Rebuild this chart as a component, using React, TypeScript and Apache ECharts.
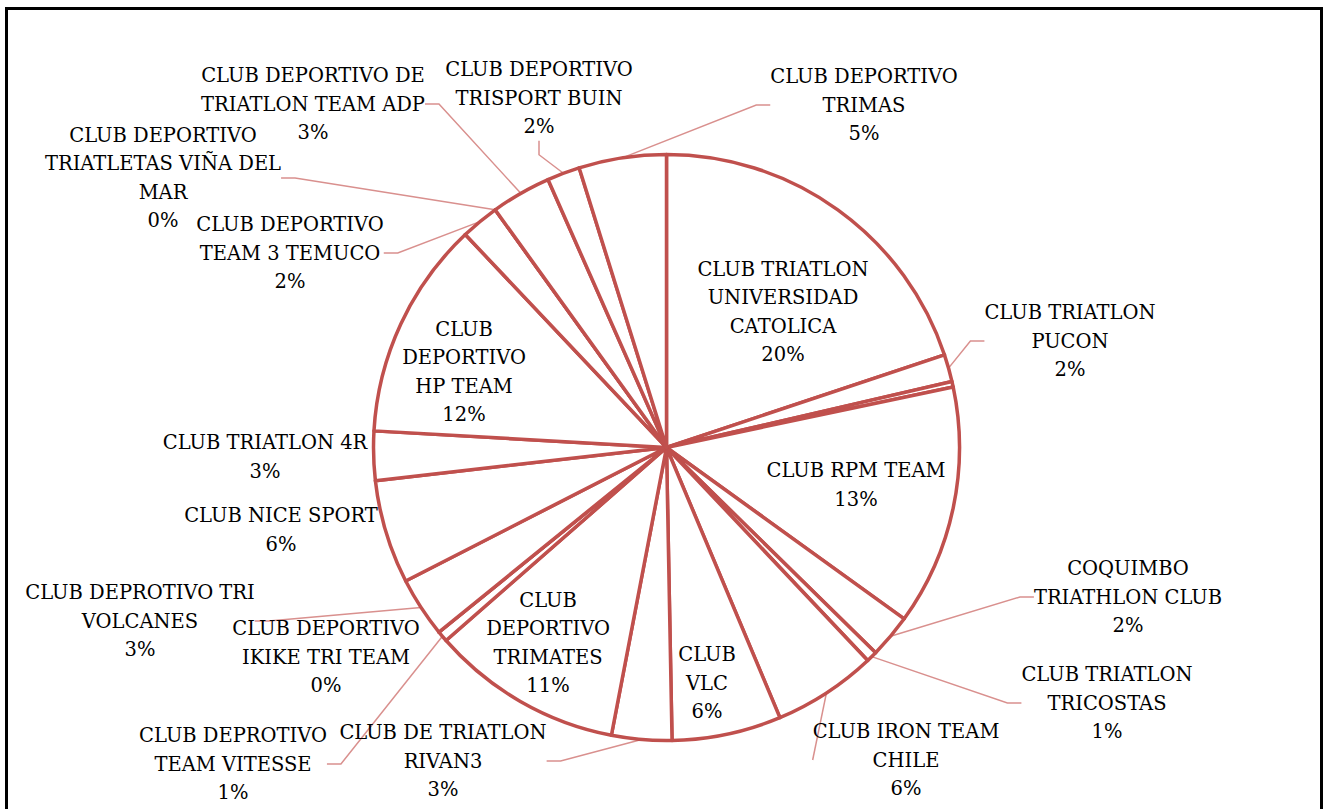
import React, { useEffect, useRef } from "react";
import * as echarts from "echarts";

// Clubs in clockwise order starting at 12 o'clock
const clubs = [
  "CLUB TRIATLON UNIVERSIDAD CATOLICA",
  "CLUB TRIATLON PUCON",
  "",
  "CLUB RPM TEAM",
  "COQUIMBO TRIATHLON CLUB",
  "CLUB TRIATLON TRICOSTAS",
  "CLUB IRON TEAM CHILE",
  "CLUB VLC",
  "CLUB DE TRIATLON RIVAN3",
  "CLUB DEPORTIVO TRIMATES",
  "CLUB DEPROTIVO TEAM VITESSE",
  "CLUB DEPORTIVO IKIKE TRI TEAM",
  "CLUB DEPROTIVO TRI VOLCANES",
  "CLUB NICE SPORT",
  "CLUB TRIATLON 4R",
  "CLUB DEPORTIVO HP TEAM",
  "CLUB DEPORTIVO TEAM 3 TEMUCO",
  "CLUB DEPORTIVO TRIATLETAS VIÑA DEL MAR",
  "CLUB DEPORTIVO DE TRIATLON TEAM ADP",
  "CLUB DEPORTIVO TRISPORT BUIN",
  "CLUB DEPORTIVO TRIMAS",
];

// Athletes per club
const counts = [66, 5, 1, 44, 8, 2, 19, 20, 11, 35, 2, 0, 11, 19, 9, 40, 7, 0, 11, 6, 16];

// Label text as wrapped in the original chart
const labelNames = [
  "CLUB TRIATLON\nUNIVERSIDAD\nCATOLICA",
  "CLUB TRIATLON\nPUCON",
  "",
  "CLUB RPM TEAM",
  "COQUIMBO\nTRIATHLON CLUB",
  "CLUB TRIATLON\nTRICOSTAS",
  "CLUB IRON TEAM\nCHILE",
  "CLUB\nVLC",
  "CLUB DE TRIATLON\nRIVAN3",
  "CLUB\nDEPORTIVO\nTRIMATES",
  "CLUB DEPROTIVO\nTEAM VITESSE",
  "CLUB DEPORTIVO\nIKIKE TRI TEAM",
  "CLUB DEPROTIVO TRI\nVOLCANES",
  "CLUB NICE SPORT",
  "CLUB TRIATLON 4R",
  "CLUB\nDEPORTIVO\nHP TEAM",
  "CLUB DEPORTIVO\nTEAM 3 TEMUCO",
  "CLUB DEPORTIVO\nTRIATLETAS VIÑA DEL\nMAR",
  "CLUB DEPORTIVO DE\nTRIATLON TEAM ADP",
  "CLUB DEPORTIVO\nTRISPORT BUIN",
  "CLUB DEPORTIVO\nTRIMAS",
];

// label placement kind: "in" inside slice, "out" outside with leader, "free" outside without leader, "none" hidden
const labelKind = [
  "in", "out", "none", "in", "out", "out", "out", "in", "out", "in",
  "out", "free", "out", "free", "free", "in", "out", "out", "out", "out", "out",
];

// label block centres (layout, not data)
const labelCenters: number[][] = [
  [783, 312], [1070, 341], [0, 0], [856, 485], [1128, 597], [1107, 703],
  [906, 760], [707, 683], [443, 761], [548, 643], [233, 764], [326, 657],
  [140, 621], [281, 530], [265, 457], [464, 372], [290, 253], [163, 178],
  [313, 104], [539, 98], [864, 105],
];

export default function App() {
  const ref = useRef<HTMLDivElement>(null);
  useEffect(() => {
    if (!ref.current) return;
    const chart = echarts.init(ref.current, null, { renderer: "svg" });
    const total = counts.reduce((a, b) => a + b, 0);
    const data = clubs.map((name, i) => {
      const kind = labelKind[i];
      return {
        name,
        value: counts[i],
        label: {
          show: kind !== "none",
          position: kind === "in" ? "inside" : "outside",
        },
        labelLine: { show: kind === "out" },
      };
    });
    chart.setOption({
      animation: false,
      backgroundColor: "#ffffff",
      graphic: [
        {
          type: "rect",
          shape: { x: 6.5, y: 8.5, width: 1315, height: 820 },
          style: { fill: "none", stroke: "#000000", lineWidth: 3 },
          silent: true,
        },
      ],
      series: [
        {
          type: "pie",
          center: [666.5, 447.5],
          radius: 293,
          startAngle: 90,
          clockwise: true,
          avoidLabelOverlap: false,
          percentPrecision: 0,
          emphasis: { disabled: true },
          itemStyle: {
            color: "#ffffff",
            borderColor: "#C0504D",
            borderWidth: 3.5,
          },
          label: {
            color: "#000000",
            fontFamily: "DejaVu Serif",
            fontSize: 19.5,
            lineHeight: 28.5,
            align: "center",
            formatter: (p: any) => {
              const pct = Math.round((p.value / total) * 100);
              return `${labelNames[p.dataIndex]}\n${pct}%`;
            },
          },
          labelLine: {
            length: 12,
            length2: 14,
            lineStyle: { color: "#D9908E", width: 1.5 },
          },
          labelLayout: (params: any) => {
            const c = labelCenters[params.dataIndex];
            return { x: c[0], y: c[1], align: "center", verticalAlign: "middle" };
          },
          data,
        },
      ],
    });
    return () => chart.dispose();
  }, []);
  return (
    <div
      ref={ref}
      style={{ position: "absolute", left: 0, top: 0, width: 1325, height: 809 }}
    />
  );
}
